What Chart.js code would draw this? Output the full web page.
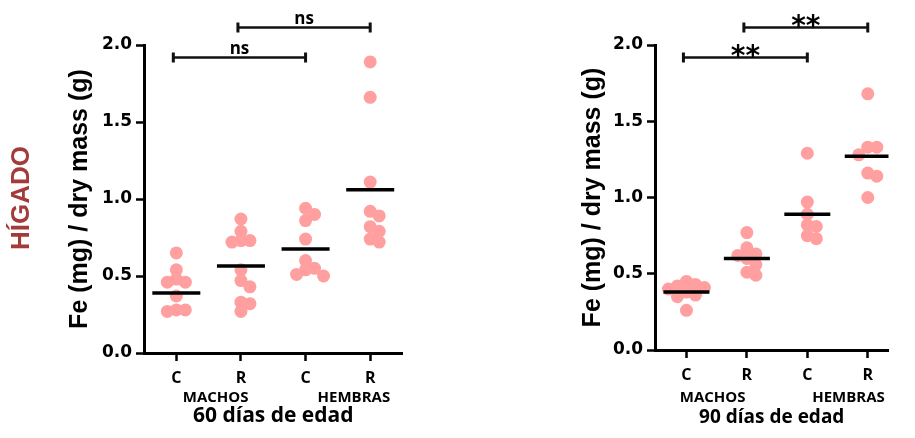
<!DOCTYPE html>
<html><head><meta charset="utf-8">
<script src="https://cdn.jsdelivr.net/npm/chart.js@4.4.1/dist/chart.umd.min.js"></script>
<style>
html,body{margin:0;padding:0;background:#fff;width:915px;height:438px;overflow:hidden;}
canvas{position:absolute;top:0;}
#c1{left:0;}
#c2{left:540px;}
</style></head><body>
<canvas id="c1" width="430" height="438"></canvas>
<canvas id="c2" width="375" height="438"></canvas>
<script>
// ---- texts ----
const categories = ['C', 'R', 'C', 'R'];
const groupNames = ['MACHOS', 'HEMBRAS'];
const rowLabel = 'HÍGADO';
const yTitle = 'Fe (mg) / dry mass (g)';
const yTickValues = [0, 0.5, 1.0, 1.5, 2.0];
const title60 = '60 días de edad';
const title90 = '90 días de edad';

// ---- 60 days ----
const d60_machos_C  = [0.65, 0.54, 0.48, 0.46, 0.46, 0.37, 0.28, 0.28, 0.27];
const d60_machos_R  = [0.87, 0.79, 0.73, 0.73, 0.72, 0.54, 0.47, 0.43, 0.33, 0.32, 0.27];
const d60_hembras_C = [0.94, 0.90, 0.86, 0.74, 0.60, 0.55, 0.54, 0.51, 0.50];
const d60_hembras_R = [1.89, 1.66, 1.11, 0.92, 0.89, 0.82, 0.79, 0.74, 0.72];
const mean60 = [0.39, 0.565, 0.675, 1.06];
const sig60 = [{from: 1, to: 3, label: 'ns'}, {from: 2, to: 4, label: 'ns'}];

// ---- 90 days ----
const d90_machos_C  = [0.45, 0.43, 0.42, 0.41, 0.40, 0.38, 0.36, 0.35, 0.26];
const d90_machos_R  = [0.77, 0.67, 0.63, 0.62, 0.60, 0.56, 0.51, 0.49];
const d90_hembras_C = [1.29, 0.97, 0.89, 0.82, 0.81, 0.75, 0.73];
const d90_hembras_R = [1.68, 1.33, 1.33, 1.28, 1.16, 1.14, 1.00];
const mean90 = [0.38, 0.60, 0.89, 1.27];
const sig90 = [{from: 1, to: 3, label: '**'}, {from: 2, to: 4, label: '**'}];

const DOT = '#ff9f9f';
const LABEL_FONT = '"Open Sans"';

const annotPlugin = {
  id: 'annot',
  afterDraw(chart, args, o) {
    const {ctx, chartArea} = chart;
    const x = chart.scales.x;
    ctx.save();
    // group labels
    ctx.fillStyle = '#000';
    ctx.font = 'bold 15px ' + LABEL_FONT;
    ctx.textAlign = 'center';
    ctx.textBaseline = 'middle';
    groupNames.forEach((g, i) => {
      const cx = (x.getPixelForValue(2 * i + 1) + x.getPixelForValue(2 * i + 2)) / 2 + o.groupShift[i];
      ctx.fillText(g, cx, o.groupY);
    });
    // significance brackets
    const levels = [chartArea.top + 12, chartArea.top - 18];
    o.sig.forEach((s, i) => {
      const yl = Math.round(levels[i]) + 0.5;
      const x1 = x.getPixelForValue(s.from) - 3, x2 = x.getPixelForValue(s.to);
      ctx.strokeStyle = '#111';
      ctx.lineWidth = 2.5;
      ctx.beginPath(); ctx.moveTo(x1, yl); ctx.lineTo(x2, yl); ctx.stroke();
      ctx.lineWidth = 3;
      ctx.beginPath();
      ctx.moveTo(x1, yl - 5); ctx.lineTo(x1, yl + 5);
      ctx.moveTo(x2, yl - 5); ctx.lineTo(x2, yl + 5);
      ctx.stroke();
      ctx.fillStyle = '#000';
      ctx.textAlign = 'center';
      ctx.textBaseline = 'alphabetic';
      if (s.label === 'ns') {
        ctx.font = 'bold 17px ' + LABEL_FONT;
        ctx.fillText(s.label, (x1 + x2) / 2, yl - 4);
      } else {
        ctx.font = 'bold 28px "DejaVu Sans"';
        ctx.fillText(s.label, (x1 + x2) / 2, yl + 7);
      }
    });
    // row label
    if (o.rowLabel) {
      ctx.translate(o.rowLabelX, o.rowLabelY);
      ctx.rotate(-Math.PI / 2);
      ctx.font = 'bold 26px "Liberation Sans"';
      ctx.fillStyle = '#a33b3b';
      ctx.textAlign = 'center';
      ctx.textBaseline = 'middle';
      ctx.fillText(o.rowLabel, 0, 0);
    }
    ctx.restore();
  }
};

function makeChart(canvas, P) {
  const chart = new Chart(canvas, {
    type: 'scatter',
    data: {
      datasets: [
        {
          label: 'mean',
          data: P.means.map((m, i) => ({x: i + 1, y: m})),
          pointStyle: 'line',
          radius: P.meanRadius,
          hoverRadius: P.meanRadius,
          borderColor: '#000',
          borderWidth: 3.5,
          order: 0
        },
        {
          label: 'points',
          data: [],
          pointStyle: 'circle',
          radius: 6.5,
          hoverRadius: 6.5,
          backgroundColor: DOT,
          borderWidth: 0,
          order: 1
        }
      ]
    },
    options: {
      responsive: false,
      animation: false,
      events: [],
      layout: {padding: {top: 45, right: P.padRight, left: 0, bottom: 0}},
      plugins: {
        legend: {display: false},
        tooltip: {enabled: false},
        annot: P.annot
      },
      scales: {
        x: {
          type: 'linear',
          min: P.xMin, max: P.xMax,
          afterBuildTicks: s => { s.ticks = categories.map((c, i) => ({value: i + 1})); },
          afterFit: s => { s.height = P.xHeight; },
          ticks: {
            callback: v => categories[Math.round(v) - 1],
            font: {family: 'Open Sans', weight: 'bold', size: 16},
            color: '#000', padding: 8, autoSkip: false, maxRotation: 0
          },
          grid: {drawOnChartArea: false, tickLength: 8, tickWidth: 2.5, tickColor: '#000'},
          border: {color: '#000', width: 3},
          title: {display: true, text: P.xTitle, font: {family: 'Open Sans', weight: 'bold', size: P.xTitleSize}, color: '#000', padding: {top: 0, bottom: 9}}
        },
        y: {
          min: 0, max: 2,
          afterBuildTicks: s => { s.ticks = yTickValues.map(v => ({value: v})); },
          afterFit: s => { s.width = P.yWidth; },
          ticks: {
            callback: v => v.toFixed(1),
            font: {family: 'DejaVu Sans', weight: 'bold', size: 17},
            color: '#000', padding: 4
          },
          grid: {drawOnChartArea: false, tickLength: 8, tickWidth: 2.5, tickColor: '#000'},
          border: {color: '#000', width: 3},
          title: {display: true, text: yTitle, font: {family: 'Liberation Sans', weight: 'bold', size: 25}, color: '#000', padding: {top: P.yTitlePad, bottom: 0}}
        }
      }
    },
    plugins: [annotPlugin]
  });

  // beeswarm placement of the dots, computed through the chart's own scales
  const xs = chart.scales.x, ys = chart.scales.y;
  const step = 9;
  const pts = [];
  P.series.forEach((vals, gi) => {
    const cx = xs.getPixelForValue(gi + 1);
    const placed = [];
    const cands = [0];
    for (let k = 1; k < 8; k++) cands.push(k * step, -k * step);
    [...vals].sort((a, b) => b - a).forEach(v => {
      const py = ys.getPixelForValue(v);
      let off = 0;
      for (const c of cands) {
        if (placed.every(p => Math.hypot(p[0] - c, p[1] - py) >= step - 0.8)) { off = c; break; }
      }
      placed.push([off, py]);
      pts.push({x: xs.getValueForPixel(cx + off), y: v});
    });
  });
  chart.data.datasets[1].data = pts;
  chart.update('none');
  return chart;
}

makeChart(document.getElementById('c1'), {
  series: [d60_machos_C, d60_machos_R, d60_hembras_C, d60_hembras_R],
  means: mean60,
  xTitle: title60, xTitleSize: 21,
  xMin: 0.5, xMax: 4.5,
  padRight: 8, yWidth: 144, xHeight: 85, yTitlePad: 65,
  meanRadius: 24,
  annot: {groupShift: [7, 16], groupY: 398, sig: sig60, rowLabel: rowLabel, rowLabelX: 22, rowLabelY: 198}
});

makeChart(document.getElementById('c2'), {
  series: [d90_machos_C, d90_machos_R, d90_hembras_C, d90_hembras_R],
  means: mean90,
  xTitle: title90, xTitleSize: 19,
  xMin: 0.48, xMax: 4.343,
  padRight: 0, yWidth: 115, xHeight: 88, yTitlePad: 38,
  meanRadius: 23,
  annot: {groupShift: [-4, 11], groupY: 398, sig: sig90, rowLabel: null}
});
</script>
</body></html>
